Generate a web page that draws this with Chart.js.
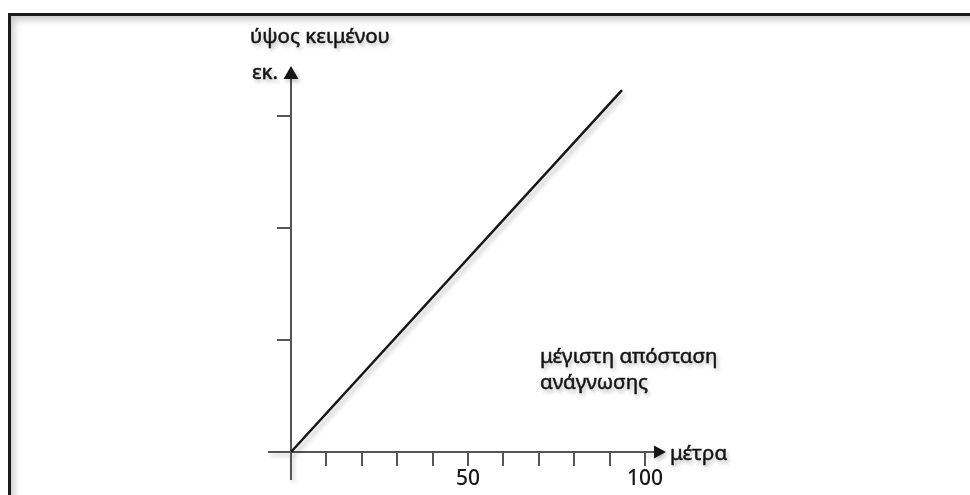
<!DOCTYPE html>
<html>
<head>
<meta charset="utf-8">
<script src="https://cdn.jsdelivr.net/npm/chart.js@4.4.1/dist/chart.umd.min.js"></script>
<style>
    body { margin: 0; background: #fff; overflow: hidden; }
    #wrap { position: relative; width: 970px; height: 495px; }
    #frame {
        position: absolute; left: 8px; top: 13px; width: 1000px; height: 600px;
        border-top: 3px solid #1b1b1b; border-left: 3px solid #1b1b1b;
        box-shadow: inset 3px 4px 7px rgba(0,0,0,0.22);
    }
    canvas { position: absolute; left: 0; top: 0; }
</style>
</head>
<body>
<div id="wrap">
    <div id="frame"></div>
    <canvas id="chart" width="970" height="495"></canvas>
</div>
<script>
// Data
const distance = [0, 93.5];      // μέτρα
const textHeight = [0, 3.23];    // εκ. (unlabelled units)
const xLabelValues = [50, 100];  // only these x ticks carry a label
const yTickValues = [0, 1, 2, 3];

const axisColor = '#555';
const inkColor = '#161616';
const font = '"Noto Sans", "Open Sans", sans-serif';

// Arrows, axis extensions and free text
const decorPlugin = {
    id: 'decor',
    beforeDatasetsDraw(chart) {
        const ctx = chart.ctx;
        ctx.save();
        ctx.shadowColor = 'rgba(0,0,0,0.28)';
        ctx.shadowBlur = 5;
        ctx.shadowOffsetX = 2;
        ctx.shadowOffsetY = 4;
    },
    afterDatasetsDraw(chart) {
        chart.ctx.restore();
    },
    afterDraw(chart) {
        const ctx = chart.ctx;
        const x0 = chart.scales.x.getPixelForValue(0);
        const y0 = chart.scales.y.getPixelForValue(0);
        const area = chart.chartArea;
        ctx.save();
        ctx.shadowColor = 'rgba(0,0,0,0.22)';
        ctx.shadowBlur = 4;
        ctx.shadowOffsetX = 2;
        ctx.shadowOffsetY = 3;

        // axis extensions past the origin
        ctx.strokeStyle = axisColor;
        ctx.lineWidth = 2;
        ctx.beginPath();
        ctx.moveTo(x0, y0); ctx.lineTo(x0, y0 + 28);
        ctx.moveTo(x0, y0); ctx.lineTo(x0 - 23, y0);
        ctx.moveTo(area.right, y0); ctx.lineTo(area.right + 12, y0);
        ctx.stroke();

        // arrow heads
        ctx.fillStyle = inkColor;
        ctx.beginPath();
        ctx.moveTo(x0, area.top - 5);
        ctx.lineTo(x0 - 7.5, area.top + 8);
        ctx.lineTo(x0 + 7.5, area.top + 8);
        ctx.closePath();
        ctx.fill();
        ctx.beginPath();
        ctx.moveTo(area.right + 21, y0);
        ctx.lineTo(area.right + 9, y0 - 6.5);
        ctx.lineTo(area.right + 9, y0 + 6.5);
        ctx.closePath();
        ctx.fill();

        // texts
        ctx.fillStyle = inkColor;
        ctx.strokeStyle = inkColor;
        ctx.lineWidth = 0.5;
        ctx.textBaseline = 'alphabetic';
        ctx.font = '20.5px ' + font;
        const label = (txt, x, y, align) => {
            ctx.textAlign = align || 'left';
            ctx.fillText(txt, x, y);
            ctx.strokeText(txt, x, y);
        };
        label('ύψος κειμένου', 250, 43);
        label('εκ.', 278, 79, 'right');
        label('μέτρα', 670, 460);
        label('μέγιστη απόσταση', 540, 363);
        label('ανάγνωσης', 540, 389);
        ctx.restore();
    }
};

new Chart(document.getElementById('chart'), {
    type: 'line',
    data: {
        labels: distance,
        datasets: [{
            data: distance.map((x, i) => ({ x: x, y: textHeight[i] })),
            borderColor: inkColor,
            borderWidth: 2.5,
            pointRadius: 0,
            fill: false,
            tension: 0,
            clip: false
        }]
    },
    options: {
        responsive: false,
        animation: false,
        events: [],
        layout: { padding: { top: 71, right: 325, left: 0, bottom: 0 } },
        plugins: {
            legend: { display: false },
            tooltip: { enabled: false },
            title: { display: false }
        },
        scales: {
            x: {
                type: 'linear',
                min: 0,
                max: 100,
                afterFit: s => { s.height = 43; },
                border: { display: true, color: axisColor, width: 2 },
                grid: { drawOnChartArea: false, drawTicks: true, tickLength: 14, color: axisColor, lineWidth: 2 },
                ticks: {
                    stepSize: 10,
                    padding: 0,
                    color: inkColor,
                    font: { family: font, size: 21, weight: '500' },
                    maxRotation: 0,
                    autoSkip: false,
                    callback: v => xLabelValues.includes(v) ? String(v) : ''
                }
            },
            y: {
                type: 'linear',
                min: 0,
                max: 3.4,
                afterFit: s => { s.width = 291; },
                afterBuildTicks: s => { s.ticks = yTickValues.map(v => ({ value: v })); },
                border: { display: true, color: axisColor, width: 2 },
                grid: { drawOnChartArea: false, drawTicks: true, tickLength: 14, color: axisColor, lineWidth: 2 },
                ticks: {
                    color: inkColor,
                    callback: () => ''
                }
            }
        }
    },
    plugins: [decorPlugin]
});
</script>
</body>
</html>
